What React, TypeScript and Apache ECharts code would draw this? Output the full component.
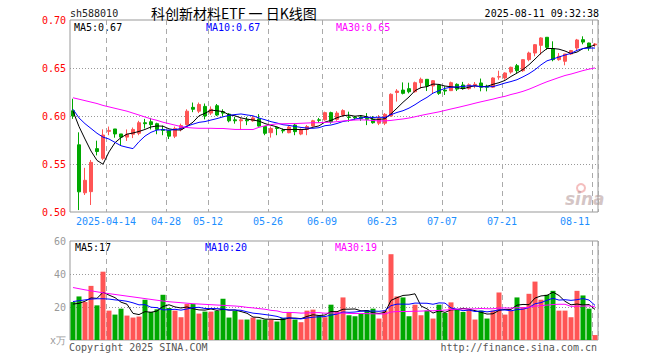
import React, { useEffect, useRef } from 'react';
import * as echarts from 'echarts';

const dates = [
  '2025-04-03','2025-04-07','2025-04-08','2025-04-09','2025-04-10','2025-04-11','2025-04-14','2025-04-15','2025-04-16','2025-04-17',
  '2025-04-18','2025-04-21','2025-04-22','2025-04-23','2025-04-24','2025-04-25','2025-04-28','2025-04-29','2025-04-30','2025-05-06',
  '2025-05-07','2025-05-08','2025-05-09','2025-05-12','2025-05-13','2025-05-14','2025-05-15','2025-05-16','2025-05-19','2025-05-20',
  '2025-05-21','2025-05-22','2025-05-23','2025-05-26','2025-05-27','2025-05-28','2025-05-29','2025-05-30','2025-06-03','2025-06-04',
  '2025-06-05','2025-06-06','2025-06-09','2025-06-10','2025-06-11','2025-06-12','2025-06-13','2025-06-16','2025-06-17','2025-06-18',
  '2025-06-19','2025-06-20','2025-06-23','2025-06-24','2025-06-25','2025-06-26','2025-06-27','2025-06-30','2025-07-01','2025-07-02',
  '2025-07-03','2025-07-04','2025-07-07','2025-07-08','2025-07-09','2025-07-10','2025-07-11','2025-07-14','2025-07-15','2025-07-16',
  '2025-07-17','2025-07-18','2025-07-21','2025-07-22','2025-07-23','2025-07-24','2025-07-25','2025-07-28','2025-07-29','2025-07-30',
  '2025-07-31','2025-08-01','2025-08-04','2025-08-05','2025-08-06','2025-08-07','2025-08-08','2025-08-11'
];

const opens = [
  0.6055,0.570,0.520,0.5212,0.566,0.5559,0.584,0.5865,0.5813,0.578,
  0.581,0.582,0.593,0.594,0.592,0.586,0.585,0.579,0.586,0.591,
  0.609,0.605,0.610,0.603,0.6107,0.6045,0.602,0.596,0.595,0.596,
  0.595,0.597,0.589,0.5826,0.588,0.585,0.5826,0.5906,0.5812,0.586,
  0.5896,0.596,0.596,0.6035,0.5965,0.601,0.599,0.599,0.599,0.5975,
  0.5965,0.5925,0.5925,0.600,0.6245,0.627,0.6285,0.6253,0.6347,0.6382,
  0.6313,0.6323,0.627,0.6264,0.633,0.6323,0.6285,0.632,0.6344,0.631,
  0.630,0.6405,0.6396,0.6458,0.6524,0.6472,0.6587,0.6656,0.6736,0.682,
  0.670,0.6587,0.657,0.6646,0.6708,0.6795,0.676,0.674
];
const closes = [
  0.600,0.521,0.533,0.5517,0.563,0.5802,0.585,0.5813,0.578,0.581,
  0.586,0.593,0.592,0.591,0.586,0.585,0.579,0.587,0.590,0.605,
  0.607,0.612,0.600,0.607,0.601,0.603,0.595,0.595,0.596,0.595,
  0.598,0.5895,0.582,0.587,0.587,0.5845,0.5885,0.5837,0.5854,0.589,
  0.595,0.5955,0.6035,0.594,0.603,0.6056,0.5985,0.598,0.5975,0.5965,
  0.593,0.5975,0.6017,0.6226,0.626,0.6236,0.6253,0.6347,0.6382,0.6313,
  0.6368,0.6236,0.626,0.6347,0.628,0.629,0.6326,0.633,0.630,0.630,
  0.6396,0.641,0.6448,0.6507,0.6472,0.6587,0.6656,0.6743,0.6813,0.6715,
  0.6587,0.6622,0.6646,0.6681,0.6792,0.677,0.6708,0.675
];
const lows = [
  0.597,0.502,0.5177,0.5073,0.559,0.554,0.580,0.5774,0.569,0.574,
  0.577,0.580,0.587,0.586,0.581,0.580,0.576,0.577,0.584,0.590,
  0.604,0.603,0.5965,0.601,0.600,0.5993,0.5934,0.592,0.586,0.5905,
  0.594,0.589,0.580,0.5775,0.580,0.582,0.582,0.580,0.580,0.580,
  0.589,0.593,0.595,0.592,0.595,0.599,0.594,0.596,0.595,0.5905,
  0.592,0.5905,0.5905,0.5993,0.615,0.6225,0.6236,0.6243,0.6288,0.626,
  0.6229,0.622,0.6219,0.626,0.626,0.6274,0.6275,0.629,0.6257,0.6257,
  0.6292,0.6378,0.6378,0.6441,0.6448,0.646,0.657,0.6622,0.6639,0.669,
  0.657,0.6576,0.6528,0.6635,0.6681,0.6747,0.668,0.672
];
const highs = [
  0.618,0.583,0.546,0.5542,0.5743,0.5861,0.589,0.5865,0.5813,0.586,
  0.588,0.595,0.597,0.598,0.593,0.590,0.585,0.589,0.592,0.607,
  0.614,0.614,0.613,0.610,0.6125,0.607,0.603,0.599,0.598,0.599,
  0.600,0.602,0.589,0.589,0.5885,0.587,0.590,0.592,0.587,0.5906,
  0.596,0.598,0.6045,0.6045,0.605,0.607,0.6045,0.600,0.601,0.603,
  0.600,0.601,0.603,0.6236,0.628,0.635,0.6347,0.6358,0.640,0.6385,
  0.6375,0.6333,0.631,0.6358,0.634,0.6355,0.634,0.6354,0.639,0.6326,
  0.6403,0.6472,0.6455,0.6514,0.6542,0.659,0.667,0.675,0.682,0.682,
  0.6778,0.6656,0.6646,0.6688,0.6803,0.683,0.6764,0.676
];

// volume, unit: 10k lots
const volumes = [
  23,26.4,23,32.8,21,41.4,17.8,15.4,19,14.8,
  13.6,14.2,24.4,17,18.6,27.4,19.4,17.8,13.8,21.8,
  21.8,16,17.2,17.2,17.6,25,13.6,17.6,12.4,12.4,
  13.6,12.4,12.4,12.4,11.2,13.4,17,12.4,10.8,17.8,
  18.4,14.8,13.8,21.4,17.4,25.8,15,14.4,15.8,18.2,
  19,13,17.8,52,26.4,25.8,14.4,21.4,15,17.8,
  13,21.4,16.4,22.8,18.4,17,18.4,12.4,17.8,13,
  17.8,28.8,15.4,17.8,25.8,20,28,35.4,24.4,27.4,
  29.8,17.8,17.8,13.8,29.8,27,19,3
];

// moving-average values before enough days are on the chart
const priceMa5Head = [0.605, 0.589, 0.576, 0.5635];
const priceMa10Head = [0.607, 0.598, 0.592, 0.587, 0.582, 0.578, 0.576, 0.5725, 0.569];
const priceMa30Head = [
  0.619,0.6175,0.616,0.6145,0.613,0.611,0.6095,0.608,0.6065,0.605,
  0.603,0.601,0.599,0.597,0.5955,0.5935,0.592,0.5905,0.589,0.588,
  0.5875,0.5872,0.5872,0.5872,0.587,0.587,0.5865,0.586,0.586
];
const volMa5Head = [21.8, 22.2, 23.5, 25.5];
const volMa10Head = [23.3, 23.8, 24.3, 24.8, 25, 25, 24.8, 24.3, 24];
const volMa30Head = [
  31.8,31.1,30.4,29.8,29.2,28.6,28.1,27.6,27.1,26.6,
  26.1,25.6,25.1,24.6,24.1,23.6,23.2,22.9,22.6,22.3,
  22.0,21.8,21.6,21.4,21.2,21.0,20.8,20.6,20.3
];

const tickDates = ['2025-04-14','2025-04-28','2025-05-12','2025-05-26','2025-06-09','2025-06-23','2025-07-07','2025-07-21','2025-08-11'];
const tickLabels = ['2025-04-14','04-28','05-12','05-26','06-09','06-23','07-07','07-21','08-11'];
const priceTicks = [0.5, 0.55, 0.6, 0.65, 0.7];
const volTicks = [0, 20, 40, 60];

const RED = '#ff5555';
const GREEN = '#00a800';
const MONO = '"DejaVu Sans Mono", "Liberation Mono", monospace';

function movingAverage(values: number[], n: number, head: number[]) {
  return values.map((_, i) => {
    if (i < n - 1) return head[i];
    let s = 0;
    for (let k = i - n + 1; k <= i; k++) s += values[k];
    return +(s / n).toFixed(4);
  });
}

export default function App() {
  const ref = useRef<HTMLDivElement>(null);
  useEffect(() => {
    if (!ref.current) return;
    const chart = echarts.init(ref.current, null, { renderer: 'svg' });
    const tickIdx = new Set(tickDates.map((d) => dates.indexOf(d)));
    const lastIdx = dates.length - 1;
    const isTick = (i: number) => tickIdx.has(i);

    const kData = dates.map((_, i) => [opens[i], closes[i], lows[i], highs[i]]);
    const ma5 = movingAverage(closes, 5, priceMa5Head);
    const ma10 = movingAverage(closes, 10, priceMa10Head);
    const ma30 = movingAverage(closes, 30, priceMa30Head);
    const vma5 = movingAverage(volumes, 5, volMa5Head);
    const vma10 = movingAverage(volumes, 10, volMa10Head);
    const vma30 = movingAverage(volumes, 30, volMa30Head);

    const splitX = { show: true, interval: (i: number) => isTick(i), lineStyle: { type: [5, 4], color: '#aaa', width: 1 } };
    const lineSeries = (name: string, data: number[], color: string, xi: number) => ({
      name, type: 'line', data, xAxisIndex: xi, yAxisIndex: xi, symbol: 'none', smooth: false, z: 4,
      lineStyle: { color, width: 1 }, itemStyle: { color },
    });
    const txt = (text: string, x: number, y: number, fill: string, font: string, align = 'left') => ({
      type: 'text', x, y, silent: true,
      style: { text, fill, font, textAlign: align, textVerticalAlign: 'middle' },
    });
    const f10 = `10px ${MONO}`;

    chart.setOption({
      animation: false,
      backgroundColor: '#fff',
      grid: [
        { left: 70, top: 20, width: 528, height: 192, show: true, borderColor: '#999', borderWidth: 1, containLabel: false, outerBoundsMode: 'none' },
        { left: 70, top: 241, width: 528, height: 99, show: true, borderColor: '#999', borderWidth: 1, containLabel: false, outerBoundsMode: 'none' },
      ],
      xAxis: [
        {
          type: 'category', gridIndex: 0, data: dates, boundaryGap: true,
          axisLine: { show: false }, axisTick: { show: false },
          axisLabel: {
            interval: (i: number) => isTick(i), margin: 4, fontFamily: MONO, fontSize: 10, color: '#1e8fff',
            formatter: (v: string, i: number) => {
              const t = tickLabels[tickDates.indexOf(v)];
              return i === lastIdx ? `{e|${t}}` : `{m|${t}}`;
            },
            rich: {
              m: { padding: [0, 6, 0, 0], fontFamily: MONO, fontSize: 10, color: '#1e8fff' },
              e: { padding: [0, 40, 0, 0], fontFamily: MONO, fontSize: 10, color: '#1e8fff' },
            },
          },
          splitLine: splitX,
        },
        {
          type: 'category', gridIndex: 1, data: dates, boundaryGap: true,
          axisLine: { show: false }, axisTick: { show: false }, axisLabel: { show: false },
          splitLine: splitX,
        },
      ],
      yAxis: [
        {
          type: 'value', gridIndex: 0, min: priceTicks[0], max: priceTicks[priceTicks.length - 1], interval: 0.05,
          axisLine: { show: false }, axisTick: { show: false },
          axisLabel: { color: '#ff0000', fontFamily: MONO, fontSize: 10, margin: 4, formatter: (v: number) => v.toFixed(2) },
          splitLine: { show: true, showMinLine: false, showMaxLine: false, lineStyle: { type: [1, 2], color: '#999' } },
        },
        {
          type: 'value', gridIndex: 1, min: volTicks[0], max: volTicks[volTicks.length - 1], interval: 20,
          axisLine: { show: false }, axisTick: { show: false },
          axisLabel: { color: '#999', fontFamily: MONO, fontSize: 10, margin: 4, formatter: (v: number) => (v === 0 ? 'x万' : String(v)) },
          splitLine: { show: true, showMinLine: false, showMaxLine: false, lineStyle: { type: [1, 2], color: '#999' } },
        },
      ],
      series: [
        {
          name: 'K', type: 'candlestick', data: kData, xAxisIndex: 0, yAxisIndex: 0, barWidth: 4, z: 3,
          itemStyle: { color: RED, color0: GREEN, borderColor: RED, borderColor0: GREEN, borderWidth: 1 },
        },
        lineSeries('MA5', ma5, '#000000', 0),
        lineSeries('MA10', ma10, '#0000ff', 0),
        lineSeries('MA30', ma30, '#ff00ff', 0),
        {
          name: 'VOL', type: 'bar', xAxisIndex: 1, yAxisIndex: 1, barWidth: 5, z: 3,
          data: volumes.map((v, i) => ({ value: v, itemStyle: { color: closes[i] >= opens[i] ? RED : GREEN } })),
        },
        lineSeries('VMA5', vma5, '#000000', 1),
        lineSeries('VMA10', vma10, '#0000ff', 1),
        lineSeries('VMA30', vma30, '#ff00ff', 1),
      ],
      graphic: [
        txt('sh588010', 70, 13, '#222', f10),
        txt('科创新材料ETF 一 日K线图', 151, 13, '#000', `14px "Noto Sans CJK SC", sans-serif`),
        txt('2025-08-11 09:32:38', 599, 13, '#000', f10, 'right'),
        txt('MA5:0.67', 74, 27, '#000', f10),
        txt('MA10:0.67', 206, 27, '#0000ff', f10),
        txt('MA30:0.65', 336, 27, '#ff00ff', f10),
        txt('MA5:17', 75, 247, '#000', f10),
        txt('MA10:20', 205, 247, '#0000ff', f10),
        txt('MA30:19', 335, 247, '#ff00ff', f10),
        txt('Copyright 2025 SINA.COM', 69, 347, '#555', f10),
        txt('http://finance.sina.com.cn', 597, 347, '#555', f10, 'right'),
        { type: 'circle', silent: true, shape: { cx: 581, cy: 188, r: 4 }, style: { fill: 'none', stroke: 'rgba(230,110,110,0.45)', lineWidth: 2 } },
        txt('sina', 565, 199, 'rgba(170,140,140,0.5)', `italic bold 17px "DejaVu Sans", sans-serif`),
      ],
    });
    return () => chart.dispose();
  }, []);
  return <div ref={ref} style={{ position: 'absolute', left: 0, top: 0, width: 660, height: 360 }} />;
}
